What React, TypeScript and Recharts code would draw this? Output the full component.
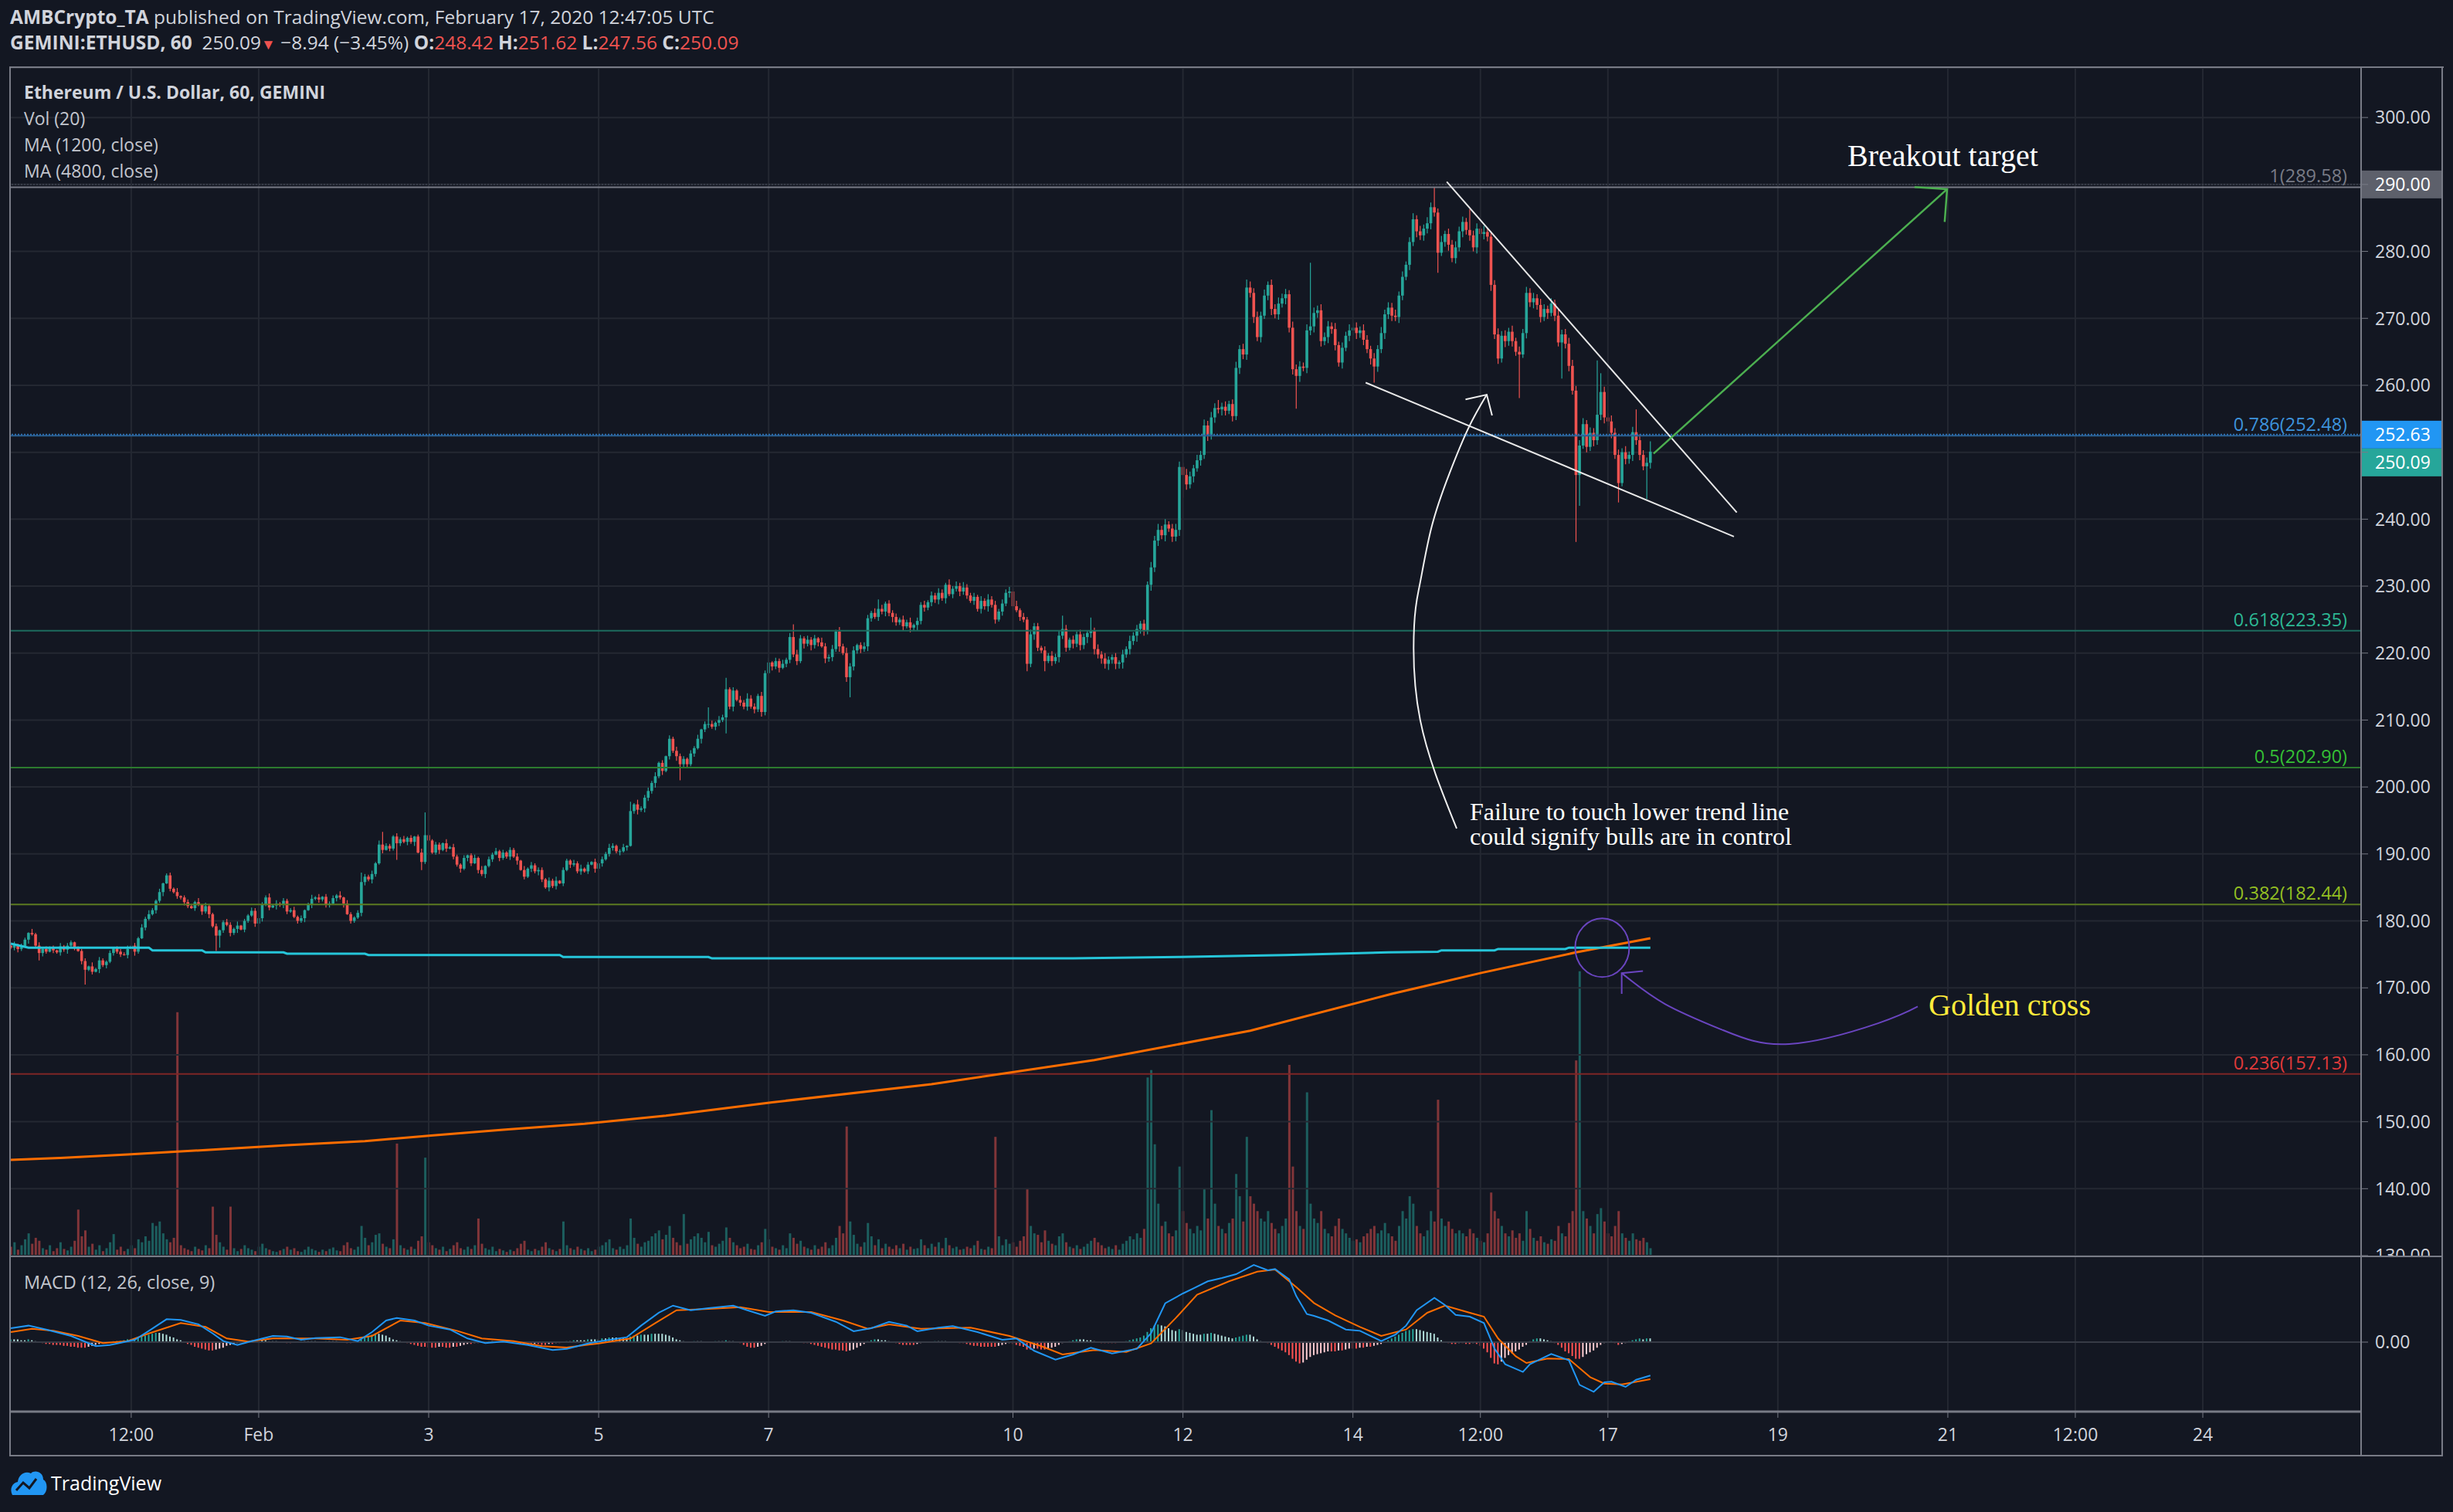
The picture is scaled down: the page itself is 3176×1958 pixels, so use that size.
import React from 'react'
import {
  Bar,
  Cell,
  ComposedChart,
  Line,
  ReferenceDot,
  ReferenceLine,
  CartesianGrid,
  XAxis,
  YAxis,
} from 'recharts'

// ---- data (x = hourly bar index, Jan 29 02:00 = 0) ----

const FIRST_OPEN = 176.3

const CLOSE = [
  176.0, 176.4, 175.8, 176.2, 177.2, 178.2, 178.0, 176.3, 175.2, 175.8,
  175.4, 176.0, 175.6, 175.3, 176.2, 175.7, 176.3, 176.8, 176.0, 175.5,
  174.0, 172.7, 173.2, 172.4, 172.8, 174.1, 173.4, 173.9, 175.2, 176.0,
  175.4, 175.0, 174.9, 175.8, 176.3, 175.4, 177.4, 179.0, 180.3, 181.0,
  181.6, 183.0, 184.3, 185.6, 186.8, 184.8, 184.3, 183.7, 183.5, 182.8,
  182.2, 181.9, 182.8, 182.4, 181.4, 182.2, 181.0, 179.2, 177.8, 178.6,
  179.8, 179.4, 178.2, 178.8, 179.3, 178.7, 180.0, 180.8, 181.5, 179.6,
  180.4, 182.4, 183.5, 182.0, 182.3, 182.6, 182.4, 183.0, 181.4, 181.6,
  180.6, 180.0, 180.4, 181.6, 182.4, 183.3, 183.5, 183.2, 183.6, 182.4,
  182.6, 183.4, 183.8, 183.5, 182.6, 181.0, 180.0, 180.5, 181.2, 185.8,
  186.6, 186.2, 187.0, 188.6, 191.4, 190.6, 191.2, 190.8, 192.6, 191.6,
  192.2, 191.8, 192.4, 191.8, 192.6, 190.2, 188.8, 192.8, 192.0, 190.2,
  191.4, 190.6, 191.6, 190.8, 191.0, 189.6, 188.4, 187.8, 189.4, 189.8,
  188.6, 189.4, 187.6, 187.0, 188.2, 189.2, 189.9, 190.4, 189.4, 190.2,
  189.6, 190.6, 189.6, 189.0, 187.6, 186.6, 187.8, 188.3, 187.4, 187.6,
  186.2, 185.0, 186.0, 185.2, 186.0, 185.6, 187.6, 189.0, 188.4, 188.6,
  187.4, 187.8, 187.4, 188.4, 188.8, 187.8, 188.6, 189.2, 190.0, 190.9,
  191.2, 190.4, 190.4, 191.0, 191.2, 196.4, 197.4, 196.6, 196.8, 198.4,
  199.4, 200.6, 201.6, 203.6, 202.4, 204.6, 207.2, 205.4, 204.6, 203.4,
  204.2, 203.4, 205.0, 205.8, 207.2, 208.6, 209.4, 209.4, 209.0, 209.6,
  210.0, 210.4, 214.6, 212.0, 214.4, 213.0, 212.6, 212.0, 213.2, 212.0,
  211.6, 213.6, 211.2, 217.0, 218.6, 218.0, 218.8, 217.8, 218.4, 219.0,
  222.4, 219.8, 218.8, 222.2, 221.4, 222.0, 221.2, 222.2, 221.6, 221.0,
  219.2, 219.4, 220.6, 223.2, 221.0, 220.0, 216.4, 218.0, 220.4, 221.2,
  220.6, 221.0, 225.2, 226.0, 225.4, 226.6, 226.2, 227.4, 226.0, 225.4,
  224.6, 225.0, 224.0, 224.6, 223.8, 224.2, 224.8, 227.2, 226.8, 227.6,
  228.6, 228.0, 229.0, 228.2, 230.2, 228.8, 229.6, 230.0, 229.2, 229.8,
  228.6, 227.8, 228.4, 226.6, 227.8, 227.0, 228.0, 227.2, 225.0, 226.2,
  227.4, 229.0, 229.2, 227.0, 226.4, 225.4, 225.0, 218.4, 222.8, 224.0,
  220.8, 220.4, 218.8, 219.6, 218.8, 219.4, 222.6, 223.6, 220.8, 222.0,
  221.4, 222.8, 221.2, 222.4, 223.0, 223.4, 220.6, 219.8, 219.2, 218.4,
  219.0, 219.4, 218.4, 218.6, 219.8, 220.6, 221.8, 222.6, 223.6, 224.4,
  223.4, 230.2, 232.8, 236.8, 238.4, 237.6, 239.2, 238.6, 237.4, 238.4,
  247.8, 246.6, 245.2, 246.4, 247.6, 248.8, 249.6, 254.0, 252.6, 255.2,
  256.6, 256.4, 256.8, 256.2, 257.2, 255.4, 262.6, 265.4, 264.6, 274.6,
  273.8, 270.2, 267.2, 270.4, 273.4, 275.0, 271.4, 270.6, 272.2, 273.0,
  273.6, 268.6, 262.4, 261.4, 262.8, 262.6, 268.2, 268.8, 270.8, 271.2,
  266.6, 267.2, 268.8, 268.4, 266.0, 263.4, 265.6, 267.4, 268.2, 268.6,
  267.8, 268.2, 266.8, 265.4, 264.0, 262.8, 265.4, 267.8, 270.6, 271.6,
  270.4, 270.2, 273.4, 276.2, 278.0, 281.4, 284.8, 283.0, 282.4, 283.4,
  284.2, 286.6, 285.8, 279.8, 281.4, 282.6, 281.0, 279.0, 280.6, 283.0,
  284.4, 283.2, 282.4, 280.6, 283.4, 282.6, 282.9, 282.2, 275.0, 267.6,
  264.0, 267.4, 266.6, 268.0, 266.6, 265.0, 264.6, 267.8, 273.8, 272.4,
  273.0, 272.0, 270.2, 271.4, 270.8, 272.2, 270.4, 266.4, 267.6, 266.2,
  262.9, 259.2, 246.6, 251.0, 254.2, 250.8, 252.9, 251.8, 255.6, 259.0,
  255.2, 254.6, 252.9, 249.6, 245.4, 250.0, 249.0, 249.6, 253.0, 251.8,
  249.6, 247.9, 248.42, 250.09,
]

// wick lengths beyond the body, in tenths of a dollar, one digit per bar
const WICK_UP = `
3524316253 4231524312 3416253241 2435142536 3251442613 4326153241 3542613254 2436152433 5241362514 3426153246
4352614325 3524136252 4316253241 3526143524 2435162534 4253614325 3624152436 4235162734 5362415364 4253614352
6473526485 5364725463 6475364527 5463748562 4653746354 5364725463 6475364758 5463748564 6574836475 5364758463
6475364758 5463748564 6587968579 8697586978 7968579686 9786958797 8697869587 9786958697 8697586978 7968579686
9786958797 8697869587 9786958697 8697586978 9978968797 8697869587 9786`
const WICK_DN = `
2453162435 3142536241 5324163524 3415263142 2536142435 3142536251 4253614325 3524163542 2436152534 4253614325
5364251436 4253614352 3625143625 4153624153 3526142536 4263514253 3524163524 4362514736 5473625374 4635274635
5364725463 6475364725 5463748562 7564837465 6475364758 5463748564 6574836475 5364758463 6475364758 5463748564
7586978687 9687958697 8697869587 9786958697 8697586978 7968579686 9786958797 8697869587 9786958697 8697586978
7968579686 9786958797 8697869587 9786958697 8697586978 9786958797 8697`

// long wicks read individually: [bar, high, low]
const WICK_OVERRIDE: [number, number | null, number | null][] = [
  [8, null, 174.1], [21, null, 170.5], [44, 187.1, null], [58, null, 175.5], [59, null, 176.0],
  [99, 187.2, null], [105, 193.3, null], [109, null, 189.1], [116, null, 187.6], [117, 196.2, null],
  [152, null, 184.4], [175, 197.8, null], [189, null, 201.0], [197, 211.9, null], [202, 216.3, 208.0],
  [221, 224.3, null], [237, null, 213.4], [245, 228.0, null], [265, 231.0, null], [287, null, 217.3],
  [292, null, 217.3], [297, 225.6, null], [305, 225.3, null], [330, 248.6, null], [331, null, 243.2],
  [341, 257.8, null], [349, 275.8, null], [363, null, 256.5], [367, 278.3, null], [385, null, 260.4],
  [402, 289.58, null], [403, null, 276.8], [412, 286.3, null], [426, null, 258.1], [438, null, 261.0],
  [442, null, 236.6], [443, null, 242.0], [448, 263.7, null], [449, 261.8, null], [454, null, 242.5],
  [459, 256.4, null], [462, null, 243.0], [463, 251.62, 247.56],
]

const VOLUME = [
  12, 18, 8, 14, 22, 30, 16, 24, 20, 10,
  8, 14, 6, 10, 18, 9, 7, 12, 20, 62,
  26, 34, 12, 16, 8, 14, 6, 10, 18, 29,
  8, 12, 6, 9, 14, 10, 22, 18, 26, 20,
  44, 40, 46, 30, 22, 18, 24, 328, 14, 10,
  8, 6, 12, 9, 7, 14, 10, 66, 28, 18,
  12, 8, 66, 10, 6, 9, 14, 10, 8, 6,
  12, 16, 10, 8, 6, 5, 7, 9, 12, 8,
  10, 6, 5, 8, 12, 9, 7, 5, 8, 6,
  9, 11, 7, 6, 14, 18, 10, 8, 12, 40,
  24, 14, 18, 28, 30, 16, 12, 10, 22, 151,
  14, 10, 8, 12, 9, 20, 26, 132, 18, 14,
  10, 8, 12, 6, 9, 14, 18, 10, 8, 12,
  9, 14, 50, 16, 10, 8, 12, 6, 9, 7,
  5, 8, 6, 10, 16, 20, 8, 6, 9, 7,
  12, 18, 10, 8, 6, 9, 46, 14, 10, 8,
  12, 9, 7, 10, 6, 8, 12, 14, 18, 22,
  10, 8, 12, 9, 14, 50, 24, 16, 12, 18,
  20, 26, 30, 34, 22, 28, 40, 24, 18, 14,
  56, 16, 22, 26, 30, 24, 18, 32, 14, 12,
  16, 20, 38, 24, 18, 14, 10, 12, 16, 9,
  8, 14, 18, 36, 22, 12, 10, 8, 14, 10,
  30, 24, 16, 20, 12, 10, 8, 14, 9, 12,
  18, 10, 14, 24, 40, 30, 174, 46, 28, 16,
  12, 18, 44, 26, 14, 22, 10, 16, 12, 9,
  14, 10, 16, 8, 12, 9, 10, 22, 14, 10,
  16, 12, 18, 10, 24, 14, 10, 12, 8, 9,
  12, 10, 14, 20, 9, 8, 12, 10, 160, 26,
  14, 22, 16, 18, 12, 20, 26, 90, 40, 30,
  28, 18, 34, 20, 16, 14, 26, 30, 18, 12,
  10, 14, 9, 12, 16, 20, 24, 18, 14, 10,
  12, 9, 14, 8, 16, 20, 26, 22, 30, 24,
  36, 240, 250, 150, 70, 40, 46, 30, 26, 34,
  120, 60, 44, 36, 30, 40, 34, 90, 50, 196,
  70, 40, 36, 30, 44, 50, 110, 80, 46, 160,
  80, 70, 60, 50, 46, 60, 44, 36, 30, 40,
  50, 257, 120, 60, 40, 36, 220, 70, 50, 44,
  60, 36, 30, 26, 40, 50, 36, 30, 24, 20,
  22, 18, 26, 30, 36, 40, 30, 34, 44, 30,
  26, 20, 40, 60, 50, 80, 70, 40, 30, 26,
  34, 60, 46, 210, 50, 40, 46, 36, 30, 34,
  30, 26, 36, 30, 24, 20, 18, 30, 85, 60,
  50, 40, 30, 26, 34, 24, 30, 20, 60, 36,
  24, 20, 26, 18, 16, 22, 20, 40, 30, 26,
  44, 60, 263, 383, 60, 50, 40, 30, 56, 64,
  46, 30, 26, 40, 60, 30, 24, 20, 30, 22,
  20, 24, 18, 10,
]

// MACD histogram, tenths
const HIST = [
  3, 3, 3, 2, 2, 3, 2, 1, 0, -1,
  -2, -2, -3, -3, -3, -4, -4, -5, -5, -6,
  -6, -6, -5, -4, -3, -2, -1, -1, 0, 1,
  1, 1, 2, 3, 3, 4, 5, 6, 7, 8,
  9, 10, 10, 9, 8, 6, 5, 3, 2, 0,
  -2, -3, -5, -6, -7, -8, -9, -9, -8, -7,
  -6, -4, -3, -2, -1, -1, 0, 1, 1, 1,
  2, 2, 2, 1, 1, 1, 0, 0, -1, -1,
  0, 0, 1, 1, 1, 1, 1, 0, 0, 1,
  1, 1, 1, 0, 0, -1, -1, 0, 1, 3,
  5, 6, 8, 9, 9, 8, 7, 5, 3, 2,
  1, 0, -1, -2, -3, -4, -5, -5, -6, -6,
  -6, -5, -5, -6, -6, -5, -5, -4, -3, -2,
  -2, -1, -1, 0, 0, 1, 1, 0, 0, 0,
  0, 0, 0, -1, -2, -3, -3, -3, -2, -2,
  -3, -3, -2, -2, -1, -1, 0, 1, 1, 2,
  2, 2, 2, 3, 3, 3, 3, 4, 4, 5,
  5, 5, 4, 4, 4, 6, 7, 7, 8, 8,
  8, 9, 9, 9, 9, 8, 7, 5, 3, 2,
  1, 0, 0, 1, 1, 1, 0, 0, 0, 1,
  1, 1, 2, 1, 1, 0, -1, -3, -5, -6,
  -6, -5, -4, -2, -1, 0, 0, 0, 1, 1,
  1, 0, 0, 0, -1, -1, -2, -3, -4, -5,
  -6, -7, -8, -8, -9, -9, -10, -9, -8, -6,
  -4, -2, 1, 2, 3, 3, 2, 2, 1, 0,
  -1, -2, -3, -3, -3, -3, -2, -1, 0, 0,
  0, 1, 1, 1, 1, 0, 0, 0, -1, -1,
  -2, -3, -4, -4, -5, -5, -5, -5, -5, -4,
  -3, -2, -1, -2, -3, -4, -5, -8, -8, -7,
  -7, -8, -8, -7, -6, -5, -3, -1, 0, 1,
  2, 3, 3, 3, 2, 2, 1, 0, -1, -1,
  -1, -1, -1, 0, 0, 1, 2, 3, 4, 5,
  7, 11, 15, 18, 19, 18, 17, 15, 13, 12,
  14, 13, 11, 10, 9, 8, 8, 9, 9, 10,
  9, 8, 7, 6, 5, 4, 5, 6, 7, 8,
  8, 6, 3, 1, 0, -1, -3, -5, -7, -9,
  -11, -14, -18, -21, -23, -22, -19, -16, -14, -13,
  -12, -11, -10, -10, -10, -9, -9, -8, -7, -7,
  -7, -6, -6, -5, -5, -4, -3, -2, 0, 2,
  4, 6, 8, 10, 12, 13, 14, 14, 13, 12,
  11, 10, 9, 5, 2, 0, -1, -2, -2, -1,
  -1, -2, -2, -1, -2, -4, -7, -11, -17, -23,
  -24, -21, -17, -14, -12, -10, -8, -5, -3, 1,
  3, 4, 4, 3, 2, 1, -1, -3, -6, -10,
  -12, -15, -18, -18, -16, -13, -11, -9, -6, -3,
  -1, 0, 1, -1, -3, -2, -1, 1, 2, 3,
  4, 3, 4, 4,
]

const MACD_PTS = [
  [0, 1.5], [5, 1.78], [10, 1.36], [17, 0.67], [24, -0.44], [28, -0.31], [35, 0.25], [39, 1.22],
  [44, 2.47], [48, 2.39], [53, 1.92], [57, 0.94], [60, 0.11], [64, -0.31], [68, 0.11], [74, 0.67],
  [78, 0.61], [82, 0.25], [86, 0.44], [93, 0.53], [98, 0.11], [102, 1.08], [106, 2.33], [109, 2.61],
  [114, 2.33], [118, 1.78], [124, 1.36], [129, 0.39], [134, -0.11], [139, 0.06], [146, -0.31],
  [153, -0.86], [157, -0.72], [163, -0.14], [168, 0.19], [174, 0.53], [178, 1.78], [183, 3.17],
  [187, 3.94], [192, 3.44], [197, 3.67], [204, 3.94], [208, 3.44], [213, 2.83], [216, 3.31],
  [221, 3.44], [226, 3.17], [233, 2.19], [238, 1.17], [243, 1.5], [248, 2.19], [253, 1.78],
  [256, 1.17], [262, 1.56], [266, 1.72], [273, 1.08], [280, 0.25], [284, 0.39], [289, -0.94],
  [295, -1.89], [300, -1.33], [305, -0.61], [311, -1.22], [318, -0.72], [322, 0.97], [326, 4.19],
  [331, 5.25], [334, 5.81], [338, 6.56], [342, 6.92], [346, 7.33], [351, 8.33], [355, 7.75],
  [357, 7.89], [361, 6.78], [363, 4.97], [366, 3.03], [368, 2.83], [372, 2.33], [377, 1.36],
  [381, 1.22], [387, 0.11], [391, 0.81], [394, 1.78], [397, 3.44], [402, 4.78], [405, 4.0],
  [408, 2.94], [412, 2.75], [416, 2.06], [419, -0.72], [422, -2.39], [427, -3.22], [429, -2.39],
  [435, -1.28], [440, -1.97], [443, -4.61], [447, -5.36], [450, -4.33], [452, -4.28], [456, -4.83],
  [459, -4.06], [463, -3.6],
]

const SIGNAL_PTS = [
  [0, 1.08], [6, 1.44], [12, 1.22], [19, 0.67], [26, -0.11], [33, 0.11], [39, 0.94], [48, 2.06],
  [55, 1.64], [61, 0.39], [67, 0.06], [74, 0.39], [86, 0.39], [95, 0.25], [102, 0.67], [110, 2.33],
  [117, 2.06], [126, 1.22], [133, 0.39], [142, 0.11], [150, -0.44], [157, -0.58], [166, -0.14],
  [175, 0.39], [182, 2.06], [188, 3.44], [197, 3.58], [206, 3.78], [214, 3.25], [226, 3.25],
  [235, 2.33], [242, 1.44], [248, 1.92], [257, 1.44], [271, 1.56], [282, 0.67], [291, -0.44],
  [297, -1.33], [306, -0.86], [315, -1.06], [322, -0.14], [329, 2.61], [335, 5.11], [344, 6.56],
  [352, 7.61], [357, 7.83], [363, 5.94], [368, 4.22], [374, 2.89], [381, 1.64], [387, 0.67],
  [394, 1.36], [400, 3.17], [405, 3.94], [412, 3.17], [416, 2.75], [420, 0.39], [425, -1.53],
  [428, -2.25], [434, -1.78], [440, -1.83], [446, -3.78], [450, -4.47], [455, -4.56], [463, -4.0],
]

const MA1200_PTS = [
  [0, 176.6], [5, 176.0], [39, 176.0], [40, 175.6], [54, 175.6], [55, 175.3], [77, 175.3],
  [78, 175.1], [100, 175.1], [101, 174.9], [155, 174.9], [156, 174.6], [197, 174.6], [198, 174.4],
  [300, 174.4], [330, 174.6], [360, 174.9], [389, 175.3], [403, 175.4], [404, 175.6], [419, 175.6],
  [420, 175.8], [439, 175.8], [440, 176.0], [463, 176.0],
]

const MA4800_PTS = [
  [0, 144.3], [14, 144.6], [33, 145.1], [56, 145.8], [78, 146.5], [100, 147.1], [118, 147.9],
  [139, 148.8], [162, 149.7], [185, 150.9], [215, 152.9], [260, 155.6], [306, 159.2], [350, 163.6],
  [390, 169.1], [415, 172.2], [442, 175.3], [463, 177.4],
]

const PRICE_TICKS = [130, 140, 150, 160, 170, 180, 190, 200, 210, 220, 230, 240, 250, 260, 270, 280, 290, 300]
const TIME_TICKS = [34, 70, 118, 166, 214, 283, 331, 379, 415, 451, 499, 547, 583, 619]
const TIME_LABELS = ['12:00', 'Feb', '3', '5', '7', '10', '12', '14', '12:00', '17', '19', '21', '12:00', '24']

const FIB_RATIOS = ['1', '0.786', '0.618', '0.5', '0.382', '0.236']
const FIB_PRICES = [289.58, 252.48, 223.35, 202.9, 182.44, 157.13]

const LAST_PRICE = 250.09
const LINE_PRICE = 252.63

// drawings (bar index, price)
const UPPER_TREND = [[405.5, 290.4], [487.4, 241.0]]
const LOWER_TREND = [[382.6, 260.4], [486.6, 237.4]]
const TARGET_ARROW = [[463.9, 249.8], [546.8, 289.3]]
const TARGET_HEAD = [[537.6, 289.6], [546.8, 289.3], [546.1, 284.4]]
const NOTE_CURVE = [
  [408.3, 193.8], [398.0, 210.0], [396.3, 224.1], [397.9, 230.3], [401.2, 238.8],
  [406.3, 246.9], [411.7, 253.7], [416.8, 258.6],
]
const NOTE_HEAD = [[410.8, 257.9], [416.8, 258.6], [418.3, 255.5]]
const CROSS_CURVE = [[538.5, 167.2], [527.3, 164.7], [502.2, 161.6], [483.4, 163.7], [467.1, 167.6], [454.9, 172.2]]
const CROSS_HEAD = [[460.9, 172.5], [454.9, 172.2], [454.9, 169.1]]
const CROSS_CENTER = [449.4, 176.0]

// ---- styling ----
const BG = '#131722'
const UP = '#26a69a'
const DOWN = '#ef5350'
const GRID = '#242832'
const BORDER = '#787b86'
const UI_FONT = '"Open Sans", "Noto Sans", sans-serif'
const SERIF = '"Liberation Serif", "DejaVu Serif", serif'
const X_DOMAIN: [number, number] = [0, 663.7]
const PLOT_W = 3149
const AXIS_W = 106
const PRICE_H = 1538
const FIB_LINE = ['#787b86', '#2a5f90', '#1d6b5e', '#2c7a2e', '#5b7a20', '#7e2626']
const FIB_TEXT = ['#787b86', '#3d93dd', '#2db894', '#35c035', '#93bf22', '#e03a3a']

const toPts = (arr: number[][]) => arr.map(([idx, v]) => ({ idx, v }))

const upDigits = WICK_UP.replace(/\s/g, '')
const dnDigits = WICK_DN.replace(/\s/g, '')

const rows = CLOSE.map((c, i) => {
  const o = i === 0 ? FIRST_OPEN : CLOSE[i - 1]
  let high = Math.max(o, c) + Number(upDigits[i] ?? 3) / 10
  let low = Math.min(o, c) - Number(dnDigits[i] ?? 3) / 10
  const ov = WICK_OVERRIDE.find((w) => w[0] === i)
  if (ov) {
    if (ov[1] != null) high = ov[1]
    if (ov[2] != null) low = ov[2]
  }
  return { idx: i, open: o, close: c, high, low, up: c >= o, vol: VOLUME[i], hist: HIST[i] / 10 }
})

function histColor(i: number) {
  const h = rows[i].hist
  const prev = i > 0 ? rows[i - 1].hist : 0
  if (h >= 0) return prev < h ? '#26a69a' : '#b2dfdb'
  return prev < h ? '#ffcdd2' : '#ff5252'
}

function Candle(props: any) {
  const { x, y, width, height, payload } = props
  if (x == null || !payload) return null
  const top = Math.min(y, y + height)
  const h = Math.abs(height)
  const span = payload.high - payload.low || 1
  const toY = (v: number) => top + ((payload.high - v) / span) * h
  const color = payload.up ? UP : DOWN
  const cx = x + width / 2
  const b1 = toY(Math.max(payload.open, payload.close))
  const b2 = toY(Math.min(payload.open, payload.close))
  return (
    <g>
      <line x1={cx} x2={cx} y1={top} y2={top + h} stroke={color} strokeWidth={1.2} />
      <rect x={cx - 1.8} y={b1} width={3.6} height={Math.max(b2 - b1, 1)} fill={color} />
    </g>
  )
}

function PriceTick(props: any) {
  const { x, y, payload } = props
  if (payload.value === 250 || payload.value === 290) return null
  return (
    <text x={x} y={y} dy="0.36em" fill="#d1d4dc" fontSize={23} fontFamily={UI_FONT} textAnchor="start">
      {payload.value.toFixed(2)}
    </text>
  )
}

function fibLabel(i: number) {
  return ({ viewBox }: any) => (
    <text
      x={viewBox.x + viewBox.width - 18}
      y={viewBox.y - 6}
      textAnchor="end"
      fill={FIB_TEXT[i]}
      fontSize={23.5}
      fontFamily={UI_FONT}
    >
      {`${FIB_RATIOS[i]}(${FIB_PRICES[i].toFixed(2)})`}
    </text>
  )
}

function axisBox(text: string, fill: string) {
  return ({ viewBox }: any) => (
    <g>
      <rect x={viewBox.x + viewBox.width} y={viewBox.y - 18} width={AXIS_W} height={36} fill={fill} />
      <text x={viewBox.x + viewBox.width + 18} y={viewBox.y} dy="0.36em" fill="#ffffff" fontSize={23} fontFamily={UI_FONT}>
        {text}
      </text>
    </g>
  )
}

function lastPriceBoxes({ viewBox }: any) {
  const x = viewBox.x + viewBox.width
  const y = viewBox.y
  return (
    <g>
      <rect x={x} y={y - 18} width={AXIS_W} height={36} fill="#2196f3" />
      <text x={x + 18} y={y} dy="0.36em" fill="#ffffff" fontSize={23} fontFamily={UI_FONT}>
        {LINE_PRICE.toFixed(2)}
      </text>
      <rect x={x} y={y + 18} width={AXIS_W} height={36} fill="#26a69a" />
      <text x={x + 18} y={y + 36} dy="0.36em" fill="#ffffff" fontSize={23} fontFamily={UI_FONT}>
        {LAST_PRICE.toFixed(2)}
      </text>
    </g>
  )
}

function VolumeChart() {
  return (
    <ComposedChart width={PLOT_W} height={PRICE_H} data={rows} margin={{ top: 0, right: AXIS_W, bottom: 0, left: 0 }}>
      <XAxis dataKey="idx" type="number" domain={X_DOMAIN} allowDataOverflow hide />
      <YAxis domain={[0, 1600]} allowDataOverflow hide />
      <Bar dataKey="vol" barSize={3} isAnimationActive={false}>
        {rows.map((r) => (
          <Cell key={r.idx} fill={r.up ? 'rgba(38,166,154,0.5)' : 'rgba(239,83,80,0.5)'} />
        ))}
      </Bar>
    </ComposedChart>
  )
}

function PriceChart() {
  return (
    <ComposedChart width={PLOT_W} height={PRICE_H} data={rows} margin={{ top: 0, right: 0, bottom: 0, left: 0 }}>
      <CartesianGrid horizontal vertical={false} stroke={GRID} strokeWidth={2} />
      <XAxis dataKey="idx" type="number" domain={X_DOMAIN} allowDataOverflow hide />
      <YAxis
        orientation="right"
        width={AXIS_W}
        domain={[130, 307.4]}
        ticks={PRICE_TICKS}
        allowDataOverflow
        interval={0}
        tick={<PriceTick />}
        tickSize={9}
        tickMargin={9}
        tickLine={{ stroke: BORDER }}
        axisLine={{ stroke: BORDER, strokeWidth: 2 }}
      />
      {TIME_TICKS.map((t) => (
        <ReferenceLine key={`v${t}`} x={t} stroke={GRID} strokeWidth={2} />
      ))}
      <ReferenceLine y={290} stroke="#4c5260" strokeDasharray="2 2" label={axisBox('290.00', '#5d606b')} />
      {FIB_PRICES.map((p, i) => (
        <ReferenceLine key={`f${i}`} y={p} stroke={FIB_LINE[i]} strokeWidth={2} label={fibLabel(i)} />
      ))}
      <ReferenceLine y={LINE_PRICE} stroke="#2f6fb0" strokeDasharray="2 2" strokeWidth={2} label={lastPriceBoxes} />
      <Line data={toPts(MA4800_PTS)} dataKey="v" stroke="#ff6d00" strokeWidth={3} dot={false} isAnimationActive={false} />
      <Line data={toPts(MA1200_PTS)} dataKey="v" stroke="#26c6da" strokeWidth={3} dot={false} isAnimationActive={false} />
      <Bar dataKey={(d: any) => [d.low, d.high]} barSize={5} shape={<Candle />} isAnimationActive={false} />
      <ReferenceLine segment={UPPER_TREND.map(([x, y]) => ({ x, y }))} stroke="#e8e8e8" strokeWidth={2} />
      <ReferenceLine segment={LOWER_TREND.map(([x, y]) => ({ x, y }))} stroke="#e8e8e8" strokeWidth={2} />
      <Line data={toPts(TARGET_ARROW)} dataKey="v" stroke="#4caf50" strokeWidth={2.5} dot={false} isAnimationActive={false} />
      <Line data={toPts(TARGET_HEAD)} dataKey="v" stroke="#4caf50" strokeWidth={2.5} dot={false} isAnimationActive={false} />
      <Line data={toPts(NOTE_CURVE)} type="natural" dataKey="v" stroke="#f0f0f0" strokeWidth={2} dot={false} isAnimationActive={false} />
      <Line data={toPts(NOTE_HEAD)} dataKey="v" stroke="#f0f0f0" strokeWidth={2} dot={false} isAnimationActive={false} />
      <Line data={toPts(CROSS_CURVE)} type="natural" dataKey="v" stroke="#6a45c0" strokeWidth={2} dot={false} isAnimationActive={false} />
      <Line data={toPts(CROSS_HEAD)} dataKey="v" stroke="#6a45c0" strokeWidth={2} dot={false} isAnimationActive={false} />
      <ReferenceDot
        x={CROSS_CENTER[0]}
        y={CROSS_CENTER[1]}
        r={35}
        shape={(p: any) => <ellipse cx={p.cx} cy={p.cy} rx={35} ry={38} fill="none" stroke="#6a45c0" strokeWidth={2} />}
      />
    </ComposedChart>
  )
}

function MacdChart() {
  const macd = toPts(MACD_PTS)
  const signal = toPts(SIGNAL_PTS)
  return (
    <ComposedChart width={PLOT_W} height={257} data={rows} margin={{ top: 0, right: 0, bottom: 0, left: 0 }}>
      <XAxis
        dataKey="idx"
        type="number"
        domain={X_DOMAIN}
        allowDataOverflow
        ticks={TIME_TICKS}
        interval={0}
        height={57}
        tickFormatter={(v: number) => TIME_LABELS[TIME_TICKS.indexOf(v)] ?? ''}
        tick={{ fill: '#d1d4dc', fontSize: 23, fontFamily: UI_FONT }}
        tickSize={8}
        tickMargin={14}
        tickLine={{ stroke: BORDER }}
        axisLine={{ stroke: BORDER, strokeWidth: 3 }}
      />
      <YAxis
        orientation="right"
        width={AXIS_W}
        domain={[-7.5, 9.1667]}
        ticks={[0]}
        allowDataOverflow
        tickFormatter={(v: number) => v.toFixed(2)}
        tick={{ fill: '#d1d4dc', fontSize: 23, fontFamily: UI_FONT, textAnchor: 'start' }}
        tickSize={9}
        tickMargin={9}
        tickLine={{ stroke: BORDER }}
        axisLine={{ stroke: BORDER, strokeWidth: 2 }}
      />
      {TIME_TICKS.map((t) => (
        <ReferenceLine key={`m${t}`} x={t} stroke={GRID} strokeWidth={2} />
      ))}
      <ReferenceLine y={0} stroke="#363a45" strokeWidth={2} />
      <Bar dataKey="hist" barSize={2} isAnimationActive={false}>
        {rows.map((r, i) => (
          <Cell key={r.idx} fill={histColor(i)} />
        ))}
      </Bar>
      <Line data={signal} dataKey="v" stroke="#ff6d00" strokeWidth={2} dot={false} isAnimationActive={false} />
      <Line data={macd} dataKey="v" stroke="#2196f3" strokeWidth={2} dot={false} isAnimationActive={false} />
    </ComposedChart>
  )
}

function Header() {
  const red = { color: DOWN }
  const base = { position: 'absolute' as const, left: 13, fontSize: 24.5, lineHeight: '30px', color: '#d1d4dc', whiteSpace: 'nowrap' as const }
  return (
    <>
      <div style={{ ...base, top: 7 }}>
        <b>AMBCrypto_TA</b> published on TradingView.com, February 17, 2020 12:47:05 UTC
      </div>
      <div style={{ ...base, top: 40 }}>
        <b>GEMINI:ETHUSD, 60</b>&nbsp; 250.09<span style={{ ...red, fontSize: 19 }}>▼</span> −8.94 (−3.45%) <b>O:</b>
        <span style={red}>248.42</span> <b>H:</b>
        <span style={red}>251.62</span> <b>L:</b>
        <span style={red}>247.56</span> <b>C:</b>
        <span style={red}>250.09</span>
      </div>
    </>
  )
}

function Legend() {
  const line = { fontSize: 23, lineHeight: '34px', color: '#c3c6ce', whiteSpace: 'nowrap' as const }
  return (
    <div style={{ position: 'absolute', left: 31, top: 102 }}>
      <div style={{ ...line, fontWeight: 700, color: '#d1d4dc' }}>Ethereum / U.S. Dollar, 60, GEMINI</div>
      <div style={line}>Vol (20)</div>
      <div style={line}>MA (1200, close)</div>
      <div style={line}>MA (4800, close)</div>
    </div>
  )
}

function Frame() {
  const seg = (left: number, top: number, width: number, height: number, color = BORDER) => (
    <div style={{ position: 'absolute', left, top, width, height, background: color }} />
  )
  return (
    <>
      {seg(12, 86, 3152, 2)}
      {seg(12, 86, 2, 1800)}
      {seg(3161, 86, 2, 1800)}
      {seg(12, 1884, 3151, 2)}
      {seg(12, 1626, 3151, 2)}
      {seg(3056, 1828, 2, 57)}
    </>
  )
}

function Overlay() {
  return (
    <svg width={3176} height={1958} style={{ position: 'absolute', left: 0, top: 0, pointerEvents: 'none' }}>
      <text x={2392} y={215} fill="#ffffff" fontSize={40} fontFamily={SERIF}>Breakout target</text>
      <text x={1903} y={1062} fill="#ffffff" fontSize={32} fontFamily={SERIF}>Failure to touch lower trend line</text>
      <text x={1903} y={1094} fill="#ffffff" fontSize={32} fontFamily={SERIF}>could signify bulls are in control</text>
      <text x={2497} y={1315} fill="#ffeb3b" fontSize={40} fontFamily={SERIF}>Golden cross</text>
      <text x={31} y={1669} fill="#c3c6ce" fontSize={23.5} fontFamily={UI_FONT}>MACD (12, 26, close, 9)</text>
      <g transform="translate(12,1902)">
        <path d="M4 34 C0 26 4 18 11 17 C12 8 20 2 28 6 C33 1 44 4 44 14 C50 17 50 30 44 34 Z" fill="#2196f3" />
        <path d="M9 28 L18 18 L26 25 L35 13" stroke="#131722" strokeWidth={3} fill="none" />
      </g>
      <text x={66} y={1930} fill="#ffffff" fontSize={25} fontFamily={UI_FONT}>TradingView</text>
    </svg>
  )
}

export default function App() {
  return (
    <div
      style={{
        position: 'absolute',
        left: 0,
        top: 0,
        width: 3176,
        height: 1958,
        background: BG,
        overflow: 'hidden',
        fontFamily: UI_FONT,
      }}
    >
      <Header />
      <div style={{ position: 'absolute', left: 14, top: 88 }}>
        <VolumeChart />
      </div>
      <div style={{ position: 'absolute', left: 14, top: 88 }}>
        <PriceChart />
      </div>
      <Legend />
      <div style={{ position: 'absolute', left: 14, top: 1628, background: BG }}>
        <MacdChart />
      </div>
      <Frame />
      <Overlay />
    </div>
  )
}
